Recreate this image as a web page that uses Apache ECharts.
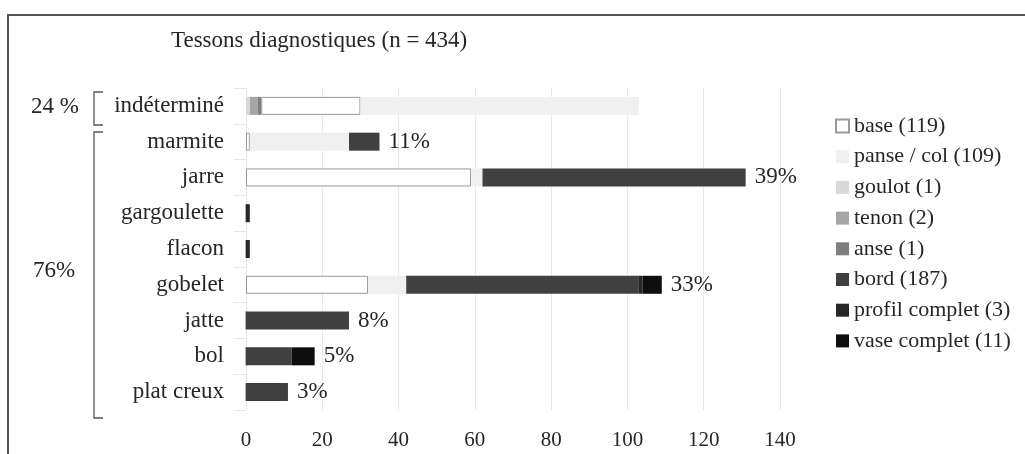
<!DOCTYPE html>
<html>
<head>
<meta charset="utf-8">
<script src="https://cdn.jsdelivr.net/npm/echarts@6/dist/echarts.min.js"></script>
<style>
html,body{margin:0;padding:0;background:#fff;}
#chart{width:1025px;height:454px;}
</style>
</head>
<body>
<div id="chart"></div>
<script>
const categories = ['indéterminé','marmite','jarre','gargoulette','flacon','gobelet','jatte','bol','plat creux'];
const goulot  = [1,0,0,0,0,0,0,0,0];
const tenon   = [2,0,0,0,0,0,0,0,0];
const anse    = [1,0,0,0,0,0,0,0,0];
const base    = [26,1,59,0,0,32,0,0,0];
const panse   = [73,26,3,0,0,10,0,0,0];
const bord    = [0,8,69,0,0,61,27,12,11];
const profil  = [0,0,0,1,1,1,0,0,0];
const vase    = [0,0,0,0,0,5,0,6,0];
const pctLabels = ['','11%','39%','','','33%','8%','5%','3%'];
const legendNames = ['base (119)','panse / col (109)','goulot (1)','tenon (2)','anse (1)','bord (187)','profil complet (3)','vase complet (11)'];
const groupLabels = ['24 %','76%'];

const FONT = "'Liberation Serif', 'DejaVu Serif', serif";
const TXT = '#262626';
const chart = echarts.init(document.getElementById('chart'));

function s(name, data, color, extra){
  return Object.assign({
    name: name, type:'bar', stack:'t', data:data, barWidth:18,
    itemStyle:{color:color}, emphasis:{disabled:true}
  }, extra||{});
}

const series = [
  s(legendNames[2], goulot, '#d9d9d9'),
  s(legendNames[3], tenon, '#a6a6a6'),
  s(legendNames[4], anse, '#7f7f7f'),
  s(legendNames[0], base, '#ffffff', {itemStyle:{color:'#ffffff', borderColor:'#9a9a9a', borderWidth:1}}),
  s(legendNames[1], panse, '#f0f0f0'),
  s(legendNames[5], bord, '#404040'),
  s(legendNames[6], profil, '#262626'),
  s(legendNames[7], vase, '#0d0d0d'),
  {
    name:'labels', type:'bar', stack:'t', barWidth:18,
    data: categories.map(()=>0),
    itemStyle:{color:'transparent'},
    label:{show:true, position:'right', distance:9, fontFamily:FONT, fontSize:23, color:TXT,
      formatter: p => pctLabels[p.dataIndex]},
    silent:true
  }
];

chart.setOption({
  animation:false,
  backgroundColor:'#fff',
  textStyle:{fontFamily:FONT},
  title:{
    text:'Tessons diagnostiques (n = 434)', left:166, top:24,
    textStyle:{fontFamily:FONT, fontSize:23, fontWeight:'normal', color:TXT}
  },
  legend:{
    data: legendNames,
    orient:'vertical', left:830, top:109,
    itemWidth:13, itemHeight:13, itemGap:6.7, icon:'rect',
    textStyle:{fontFamily:FONT, fontSize:22, color:TXT, lineHeight:24}
  },
  grid:{left:246, right:245, top:88, bottom:44},
  xAxis:{
    type:'value', min:0, max:140, interval:20,
    axisLine:{show:false}, axisTick:{show:false},
    axisLabel:{fontFamily:FONT, fontSize:21, color:TXT, margin:20},
    splitLine:{lineStyle:{color:'#e8e8e8'}}
  },
  yAxis:{
    type:'category', data:categories, inverse:true,
    axisLine:{show:true, lineStyle:{color:'#e4e4e4'}},
    axisTick:{show:true, length:12, lineStyle:{color:'#e4e4e4'}},
    axisLabel:{fontFamily:FONT, fontSize:23, color:TXT, margin:22}
  },
  graphic:[
    {type:'rect', shape:{x:8, y:15, width:1100, height:500}, style:{fill:'none', stroke:'#555', lineWidth:2}, silent:true},
    {type:'polyline', shape:{points:[[103,92],[94,92],[94,125],[103,125]]}, style:{fill:'none', stroke:'#555', lineWidth:1.3}},
    {type:'polyline', shape:{points:[[103,132],[94,132],[94,418],[103,418]]}, style:{fill:'none', stroke:'#555', lineWidth:1.3}},
    {type:'text', left:31, top:95, style:{text:groupLabels[0], fontFamily:FONT, fontSize:23, fill:TXT}},
    {type:'text', left:33, top:259, style:{text:groupLabels[1], fontFamily:FONT, fontSize:23, fill:TXT}}
  ],
  series: series
});
</script>
</body>
</html>
